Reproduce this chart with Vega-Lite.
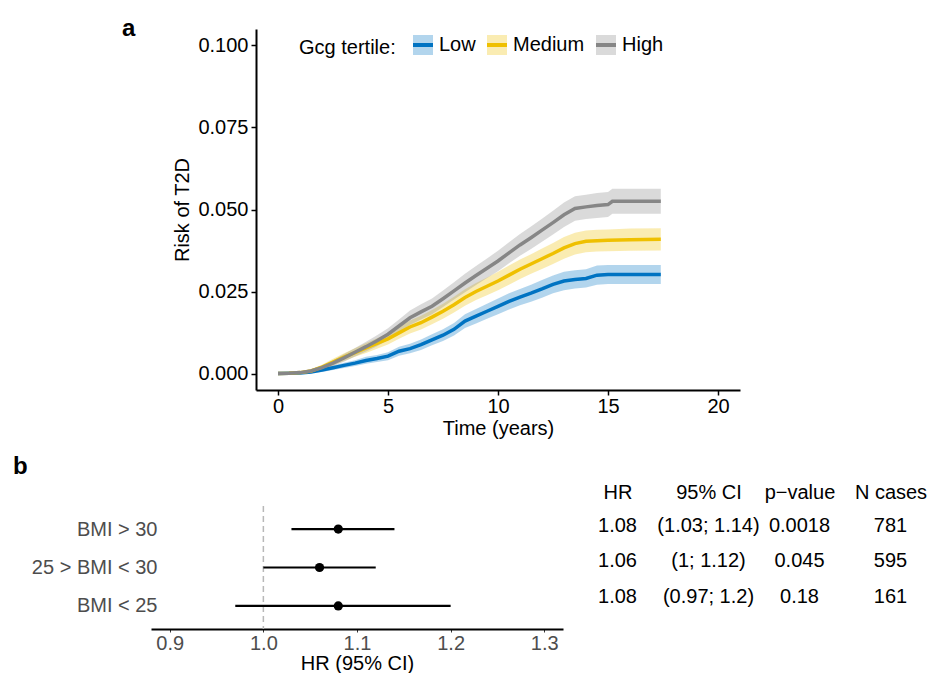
{
  "$schema": "https://vega.github.io/schema/vega-lite/v6.json",
  "padding": {"left": 13, "top": 17, "right": 0, "bottom": 0},
  "config": {
    "font": "Liberation Sans",
    "view": {"stroke": null},
    "axis": {
      "grid": false,
      "labelFontSize": 20,
      "titleFontSize": 20,
      "titleFontWeight": "normal",
      "labelColor": "black",
      "titleColor": "black",
      "domainColor": "black",
      "tickColor": "black"
    },
    "title": {"color": "black"}
  },
  "datasets": {
    "curves": [
      {"time": 0, "tertile": "Low", "risk": 0, "lower": 0, "upper": 0},
      {"time": 0.5, "tertile": "Low", "risk": 0.0001, "lower": 0, "upper": 0.0003},
      {"time": 1, "tertile": "Low", "risk": 0.0002, "lower": 0, "upper": 0.0004},
      {"time": 1.5, "tertile": "Low", "risk": 0.0005, "lower": 0.0001, "upper": 0.0009},
      {"time": 2, "tertile": "Low", "risk": 0.0011, "lower": 0.0005, "upper": 0.0017},
      {"time": 2.5, "tertile": "Low", "risk": 0.0018, "lower": 0.0011, "upper": 0.0025},
      {"time": 3, "tertile": "Low", "risk": 0.0025, "lower": 0.0017, "upper": 0.0033},
      {"time": 3.5, "tertile": "Low", "risk": 0.0032, "lower": 0.0023, "upper": 0.0041},
      {"time": 4, "tertile": "Low", "risk": 0.004, "lower": 0.003, "upper": 0.0051},
      {"time": 4.5, "tertile": "Low", "risk": 0.0046, "lower": 0.0035, "upper": 0.0057},
      {"time": 5, "tertile": "Low", "risk": 0.0053, "lower": 0.0041, "upper": 0.0065},
      {"time": 5.5, "tertile": "Low", "risk": 0.0068, "lower": 0.0054, "upper": 0.0082},
      {"time": 6, "tertile": "Low", "risk": 0.0076, "lower": 0.0062, "upper": 0.0091},
      {"time": 6.5, "tertile": "Low", "risk": 0.0088, "lower": 0.0072, "upper": 0.0104},
      {"time": 7, "tertile": "Low", "risk": 0.0103, "lower": 0.0086, "upper": 0.012},
      {"time": 7.5, "tertile": "Low", "risk": 0.0117, "lower": 0.0099, "upper": 0.0135},
      {"time": 8, "tertile": "Low", "risk": 0.0135, "lower": 0.0116, "upper": 0.0154},
      {"time": 8.5, "tertile": "Low", "risk": 0.016, "lower": 0.0139, "upper": 0.0181},
      {"time": 9, "tertile": "Low", "risk": 0.0175, "lower": 0.0153, "upper": 0.0197},
      {"time": 9.5, "tertile": "Low", "risk": 0.019, "lower": 0.0167, "upper": 0.0213},
      {"time": 10, "tertile": "Low", "risk": 0.0205, "lower": 0.0181, "upper": 0.0229},
      {"time": 10.5, "tertile": "Low", "risk": 0.022, "lower": 0.0195, "upper": 0.0245},
      {"time": 11, "tertile": "Low", "risk": 0.0233, "lower": 0.0208, "upper": 0.0258},
      {"time": 11.5, "tertile": "Low", "risk": 0.0245, "lower": 0.0219, "upper": 0.0271},
      {"time": 12, "tertile": "Low", "risk": 0.0258, "lower": 0.0231, "upper": 0.0285},
      {"time": 12.5, "tertile": "Low", "risk": 0.0272, "lower": 0.0245, "upper": 0.0299},
      {"time": 13, "tertile": "Low", "risk": 0.0282, "lower": 0.0254, "upper": 0.031},
      {"time": 13.5, "tertile": "Low", "risk": 0.0287, "lower": 0.0259, "upper": 0.0315},
      {"time": 14, "tertile": "Low", "risk": 0.029, "lower": 0.0262, "upper": 0.0318},
      {"time": 14.5, "tertile": "Low", "risk": 0.03, "lower": 0.0271, "upper": 0.0329},
      {"time": 15, "tertile": "Low", "risk": 0.0302, "lower": 0.0273, "upper": 0.0331},
      {"time": 16, "tertile": "Low", "risk": 0.0302, "lower": 0.0273, "upper": 0.0331},
      {"time": 17.4, "tertile": "Low", "risk": 0.0302, "lower": 0.0273, "upper": 0.0331},
      {"time": 0, "tertile": "Medium", "risk": 0, "lower": 0, "upper": 0},
      {"time": 0.5, "tertile": "Medium", "risk": 0.0001, "lower": 0, "upper": 0.0003},
      {"time": 1, "tertile": "Medium", "risk": 0.0003, "lower": 0, "upper": 0.0006},
      {"time": 1.5, "tertile": "Medium", "risk": 0.0008, "lower": 0.0003, "upper": 0.0013},
      {"time": 2, "tertile": "Medium", "risk": 0.002, "lower": 0.0013, "upper": 0.0027},
      {"time": 2.5, "tertile": "Medium", "risk": 0.0035, "lower": 0.0025, "upper": 0.0045},
      {"time": 3, "tertile": "Medium", "risk": 0.005, "lower": 0.0038, "upper": 0.0062},
      {"time": 3.5, "tertile": "Medium", "risk": 0.0064, "lower": 0.0051, "upper": 0.0077},
      {"time": 4, "tertile": "Medium", "risk": 0.0078, "lower": 0.0063, "upper": 0.0093},
      {"time": 4.5, "tertile": "Medium", "risk": 0.0092, "lower": 0.0076, "upper": 0.0108},
      {"time": 5, "tertile": "Medium", "risk": 0.0106, "lower": 0.0089, "upper": 0.0123},
      {"time": 5.5, "tertile": "Medium", "risk": 0.0124, "lower": 0.0106, "upper": 0.0142},
      {"time": 6, "tertile": "Medium", "risk": 0.0142, "lower": 0.0122, "upper": 0.0162},
      {"time": 6.5, "tertile": "Medium", "risk": 0.0155, "lower": 0.0134, "upper": 0.0176},
      {"time": 7, "tertile": "Medium", "risk": 0.0172, "lower": 0.015, "upper": 0.0194},
      {"time": 7.5, "tertile": "Medium", "risk": 0.019, "lower": 0.0167, "upper": 0.0213},
      {"time": 8, "tertile": "Medium", "risk": 0.021, "lower": 0.0186, "upper": 0.0234},
      {"time": 8.5, "tertile": "Medium", "risk": 0.0232, "lower": 0.0207, "upper": 0.0257},
      {"time": 9, "tertile": "Medium", "risk": 0.025, "lower": 0.0224, "upper": 0.0276},
      {"time": 9.5, "tertile": "Medium", "risk": 0.0266, "lower": 0.0239, "upper": 0.0293},
      {"time": 10, "tertile": "Medium", "risk": 0.0282, "lower": 0.0254, "upper": 0.031},
      {"time": 10.5, "tertile": "Medium", "risk": 0.03, "lower": 0.0271, "upper": 0.0329},
      {"time": 11, "tertile": "Medium", "risk": 0.0318, "lower": 0.0288, "upper": 0.0348},
      {"time": 11.5, "tertile": "Medium", "risk": 0.0334, "lower": 0.0304, "upper": 0.0364},
      {"time": 12, "tertile": "Medium", "risk": 0.035, "lower": 0.0319, "upper": 0.0381},
      {"time": 12.5, "tertile": "Medium", "risk": 0.0366, "lower": 0.0334, "upper": 0.0398},
      {"time": 13, "tertile": "Medium", "risk": 0.0383, "lower": 0.035, "upper": 0.0416},
      {"time": 13.5, "tertile": "Medium", "risk": 0.0396, "lower": 0.0363, "upper": 0.0429},
      {"time": 14, "tertile": "Medium", "risk": 0.0403, "lower": 0.037, "upper": 0.0436},
      {"time": 14.5, "tertile": "Medium", "risk": 0.0405, "lower": 0.0372, "upper": 0.0438},
      {"time": 15, "tertile": "Medium", "risk": 0.0406, "lower": 0.0373, "upper": 0.0439},
      {"time": 16, "tertile": "Medium", "risk": 0.0408, "lower": 0.0374, "upper": 0.0442},
      {"time": 17.4, "tertile": "Medium", "risk": 0.0409, "lower": 0.0375, "upper": 0.0443},
      {"time": 0, "tertile": "High", "risk": 0, "lower": 0, "upper": 0},
      {"time": 0.5, "tertile": "High", "risk": 0.0001, "lower": 0, "upper": 0.0003},
      {"time": 1, "tertile": "High", "risk": 0.0003, "lower": 0, "upper": 0.0006},
      {"time": 1.5, "tertile": "High", "risk": 0.0008, "lower": 0.0003, "upper": 0.0013},
      {"time": 2, "tertile": "High", "risk": 0.0018, "lower": 0.0011, "upper": 0.0025},
      {"time": 2.5, "tertile": "High", "risk": 0.0032, "lower": 0.0023, "upper": 0.0041},
      {"time": 3, "tertile": "High", "risk": 0.0048, "lower": 0.0036, "upper": 0.006},
      {"time": 3.5, "tertile": "High", "risk": 0.0065, "lower": 0.0052, "upper": 0.0078},
      {"time": 4, "tertile": "High", "risk": 0.0082, "lower": 0.0067, "upper": 0.0097},
      {"time": 4.5, "tertile": "High", "risk": 0.01, "lower": 0.0083, "upper": 0.0117},
      {"time": 5, "tertile": "High", "risk": 0.012, "lower": 0.0102, "upper": 0.0138},
      {"time": 5.5, "tertile": "High", "risk": 0.0145, "lower": 0.0125, "upper": 0.0165},
      {"time": 6, "tertile": "High", "risk": 0.017, "lower": 0.0148, "upper": 0.0192},
      {"time": 6.5, "tertile": "High", "risk": 0.0188, "lower": 0.0165, "upper": 0.0211},
      {"time": 7, "tertile": "High", "risk": 0.0205, "lower": 0.0181, "upper": 0.0229},
      {"time": 7.5, "tertile": "High", "risk": 0.0228, "lower": 0.0203, "upper": 0.0253},
      {"time": 8, "tertile": "High", "risk": 0.0252, "lower": 0.0226, "upper": 0.0278},
      {"time": 8.5, "tertile": "High", "risk": 0.0276, "lower": 0.0248, "upper": 0.0304},
      {"time": 9, "tertile": "High", "risk": 0.0299, "lower": 0.027, "upper": 0.0328},
      {"time": 9.5, "tertile": "High", "risk": 0.0321, "lower": 0.0291, "upper": 0.0351},
      {"time": 10, "tertile": "High", "risk": 0.0343, "lower": 0.0312, "upper": 0.0374},
      {"time": 10.5, "tertile": "High", "risk": 0.0368, "lower": 0.0336, "upper": 0.04},
      {"time": 11, "tertile": "High", "risk": 0.0392, "lower": 0.0359, "upper": 0.0425},
      {"time": 11.5, "tertile": "High", "risk": 0.0414, "lower": 0.038, "upper": 0.0448},
      {"time": 12, "tertile": "High", "risk": 0.0437, "lower": 0.0402, "upper": 0.0472},
      {"time": 12.5, "tertile": "High", "risk": 0.046, "lower": 0.0424, "upper": 0.0496},
      {"time": 13, "tertile": "High", "risk": 0.0484, "lower": 0.0447, "upper": 0.0521},
      {"time": 13.5, "tertile": "High", "risk": 0.0503, "lower": 0.0466, "upper": 0.054},
      {"time": 14, "tertile": "High", "risk": 0.0508, "lower": 0.0471, "upper": 0.0545},
      {"time": 14.5, "tertile": "High", "risk": 0.0512, "lower": 0.0474, "upper": 0.055},
      {"time": 15, "tertile": "High", "risk": 0.0515, "lower": 0.0477, "upper": 0.0553},
      {"time": 15.2, "tertile": "High", "risk": 0.0525, "lower": 0.0487, "upper": 0.0563},
      {"time": 16, "tertile": "High", "risk": 0.0525, "lower": 0.0487, "upper": 0.0563},
      {"time": 17.4, "tertile": "High", "risk": 0.0525, "lower": 0.0487, "upper": 0.0563}
    ],
    "subgroups": [
      {"subgroup": "BMI > 30", "hr": 1.08, "lower": 1.03, "upper": 1.14, "ci": "(1.03; 1.14)", "p": "0.0018", "n": 781},
      {"subgroup": "25 > BMI < 30", "hr": 1.06, "lower": 1.0, "upper": 1.12, "ci": "(1; 1.12)", "p": "0.045", "n": 595},
      {"subgroup": "BMI < 25", "hr": 1.08, "lower": 0.97, "upper": 1.2, "ci": "(0.97; 1.2)", "p": "0.18", "n": 161}
    ]
  },
  "spacing": 17,
  "vconcat": [
    {
      "spacing": 0,
      "hconcat": [
        {
          "width": 21,
          "height": 1,
          "title": {"text": "a", "anchor": "start", "frame": "group", "fontSize": 24, "fontWeight": "bold", "dx": -29, "offset": -12},
          "data": {"values": []},
          "mark": "point"
        },
        {
          "width": 484,
          "height": 361,
          "data": {"name": "curves"},
          "layer": [
            {
              "mark": {"type": "area", "fillOpacity": 0.3},
              "encoding": {
                "x": {
                  "field": "time", "type": "quantitative",
                  "scale": {"domain": [-1, 21], "nice": false, "zero": false},
                  "axis": {"values": [0, 5, 10, 15, 20], "format": "d", "title": "Time (years)", "domainWidth": 2, "tickWidth": 1.5, "tickSize": 5, "labelPadding": 1, "titlePadding": 2}
                },
                "y": {
                  "field": "lower", "type": "quantitative",
                  "scale": {"domain": [-0.005, 0.105], "nice": false, "zero": false},
                  "axis": {"values": [0, 0.025, 0.05, 0.075, 0.1], "format": ".3f", "title": "Risk of T2D", "domainWidth": 2, "tickWidth": 1.5, "tickSize": 5, "labelPadding": 3, "titlePadding": 5}
                },
                "y2": {"field": "upper"},
                "fill": {
                  "field": "tertile", "type": "nominal",
                  "scale": {"domain": ["Low", "Medium", "High"], "range": ["#0073C2", "#EFC000", "#868686"]},
                  "legend": {
                    "orient": "none", "legendX": 148, "legendY": 4, "direction": "horizontal",
                    "title": "Gcg tertile:", "titleOrient": "left", "titleFontSize": 20, "titleFontWeight": "normal", "titleColor": "black",
                    "titlePadding": 15, "titleAnchor": "middle", "titleBaseline": "middle",
                    "labelFontSize": 20, "labelColor": "black", "labelOffset": 4, "columnPadding": 3,
                    "symbolType": "M-1,0L1,0L1,-1L-1,-1L-1,1L1,1L1,0", "symbolSize": 400,
                    "encoding": {
                      "symbols": {
                        "stroke": {"value": {"expr": "{'Low': '#0073C2', 'Medium': '#EFC000', 'High': '#868686'}[datum.value]"}},
                        "opacity": {"value": 1},
                        "fillOpacity": {"value": 0.3},
                        "strokeOpacity": {"value": 1},
                        "strokeWidth": {"value": 4},
                        "strokeDash": {"value": [20, 300]}
                      }
                    }
                  }
                }
              }
            },
            {
              "mark": {"type": "line", "strokeWidth": 3.5},
              "encoding": {
                "x": {"field": "time", "type": "quantitative", "axis": {"title": "Time (years)"}},
                "y": {"field": "risk", "type": "quantitative", "axis": {"title": "Risk of T2D"}},
                "stroke": {
                  "field": "tertile", "type": "nominal", "sort": ["Low", "Medium", "High"],
                  "scale": {"range": ["#0073C2", "#EFC000", "#868686"]},
                  "legend": null
                }
              }
            }
          ]
        }
      ]
    },
    {
      "spacing": 9,
      "hconcat": [
        {
          "width": 412,
          "height": 123,
          "title": {"text": "b", "anchor": "start", "frame": "group", "fontSize": 24, "fontWeight": "bold", "dx": -138, "offset": 26},
          "layer": [
            {
              "data": {"values": [{"ref": 1}]},
              "mark": {"type": "rule", "color": "#b8b8b8", "strokeDash": [6, 4], "strokeWidth": 1.5},
              "encoding": {"x": {"field": "ref", "type": "quantitative"}}
            },
            {
              "data": {"name": "subgroups"},
              "mark": {"type": "rule", "color": "black", "strokeWidth": 2.2},
              "encoding": {
                "x": {
                  "field": "lower", "type": "quantitative",
                  "scale": {"domain": [0.88, 1.32], "nice": false, "zero": false},
                  "axis": {"values": [0.9, 1.0, 1.1, 1.2, 1.3], "format": ".1f", "title": "HR (95% CI)", "labelColor": "#4d4d4d", "domainWidth": 2, "tickSize": 3, "tickColor": "#333333", "labelPadding": 1, "titlePadding": 0}
                },
                "x2": {"field": "upper"},
                "y": {
                  "field": "subgroup", "type": "nominal", "sort": ["BMI > 30", "25 > BMI < 30", "BMI < 25"],
                  "scale": {"type": "point", "padding": 0.6},
                  "axis": {"title": null, "ticks": false, "domain": false, "labelColor": "#4d4d4d", "labelPadding": -6}
                }
              }
            },
            {
              "data": {"name": "subgroups"},
              "mark": {"type": "point", "filled": true, "color": "black", "opacity": 1, "size": 85},
              "encoding": {
                "x": {"field": "hr", "type": "quantitative", "axis": {"title": "HR (95% CI)"}},
                "y": {"field": "subgroup", "type": "nominal", "sort": ["BMI > 30", "25 > BMI < 30", "BMI < 25"]}
              }
            }
          ]
        },
        {
          "width": 364,
          "height": 110.6,
          "data": {"name": "subgroups"},
          "transform": [{"fold": ["hr", "ci", "p", "n"], "as": ["col", "val"]}],
          "mark": {"type": "text", "fontSize": 20, "color": "black"},
          "encoding": {
            "x": {
              "field": "col", "type": "nominal", "sort": ["hr", "ci", "p", "n"],
              "scale": {"type": "point", "padding": 0.5},
              "axis": {
                "orient": "top", "title": null, "domain": false, "ticks": false, "labelAngle": 0, "labelPadding": 4,
                "labelExpr": "{'hr': 'HR', 'ci': '95% CI', 'p': 'p−value', 'n': 'N cases'}[datum.value]"
              }
            },
            "y": {
              "field": "subgroup", "type": "nominal", "sort": ["BMI > 30", "25 > BMI < 30", "BMI < 25"],
              "scale": {"type": "point", "padding": 0.567},
              "axis": null
            },
            "text": {"field": "val", "type": "nominal"}
          }
        }
      ]
    }
  ]
}
